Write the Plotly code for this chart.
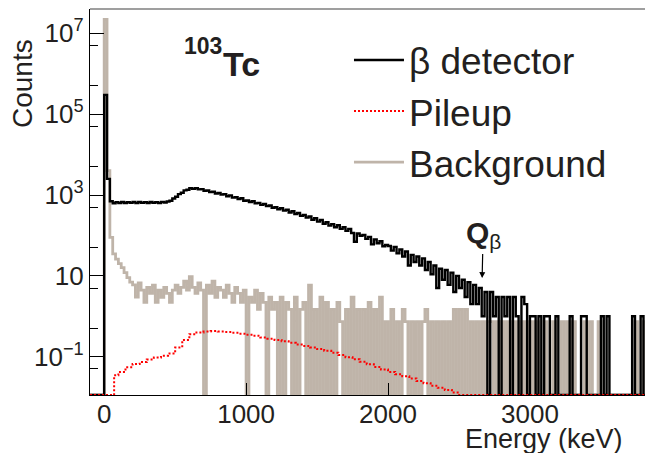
import math
import plotly.graph_objects as go

# ------------------------------------------------------------------ data
BIN_START = -100      # keV, lower edge of the first histogram bin
BIN_WIDTH = 20        # keV
E_RANGE = [-100, 3867]
Y_LOG_RANGE = [-1.947, 7.601]

# beta detector counts per bin (bins from -100 keV, 20 keV wide)
beta_counts = [
    0, 0, 0, 0, 0,
    300000, 2500, 700, 625, 665, 630, 670, 635, 665, 640,
    675, 630, 670, 640, 668, 632, 672, 638, 665, 630,
    675, 650, 690, 720, 820, 905, 1050, 1140, 1300, 1350,
    1470, 1420, 1480, 1380, 1400, 1270, 1290, 1180, 1200, 1090,
    1120, 1020, 1050, 930, 980, 860, 880, 790, 830, 720,
    730, 670, 700, 620, 640, 570, 600, 530, 550, 485,
    500, 445, 470, 410, 430, 370, 395, 340, 360, 305,
    320, 275, 295, 245, 265, 220, 240, 195, 212, 175,
    190, 160, 178, 145, 160, 130, 145, 115, 70, 112,
    98, 103, 82, 92, 60, 80, 64, 72, 54, 58,
    55, 42, 52, 36, 45, 30, 40, 18, 33, 22,
    30, 18, 27, 14, 22, 11, 18, 5, 15, 8,
    14, 6, 12, 4, 10, 5, 8, 3, 7, 2,
    6, 2, 5, 1, 4, 0, 4, 1, 3, 0,
    3, 1, 3, 0, 3, 1, 0, 3, 2, 0,
    1, 1, 0, 1, 0, 1, 1, 0, 0, 1,
    0, 0, 0, 0, 1, 0, 0, 0, 1, 1,
    0, 0, 0, 0, 0, 1, 0, 1, 0, 0,
    0, 0, 0, 0, 0, 0, 1, 0, 0, 1,
    0, 0, 1, 0,
]

# background counts per bin (same bins)
background_counts = [
    0, 0, 0, 0, 0,
    22000000, 4000, 90, 35, 26, 20, 16, 12, 9, 7,
    6, 3, 6.66, 4.44, 2.22, 5.18, 3.7, 5.92, 2.22, 4.44,
    2.96, 5.18, 3.7, 2.22, 4.44, 5.92, 3.7, 5.18, 7.4, 4.44,
    9.6, 5.18, 3.7, 6.66, 4.44, 0, 5.92, 3.7, 7.4, 2.96,
    5.18, 4.44, 2.96, 5.92, 3.7, 2.22, 5.18, 3.7, 2.22, 4.44,
    0, 2.96, 2.22, 4.44, 1.48, 3.7, 2.22, 0, 2.96, 1.48,
    2.22, 0, 2.96, 0, 2.22, 1.48, 0, 2.96, 0, 1.48,
    2.22, 0, 5.92, 0, 1.48, 0, 2.96, 0, 2.22, 0,
    1.48, 0, 2.22, 0.74, 0, 1.48, 0, 2.96, 0, 1.48,
    0, 1.48, 0, 2.22, 0, 1.48, 0, 2.96, 0, 0.74,
    0, 1.48, 0, 0.74, 0, 1.48, 0.74, 0, 0.74, 0,
    0.74, 0, 0.74, 1.48, 0, 0.74, 0, 0.74, 0, 0.74,
    0, 0.74, 0, 1.48, 0, 1.48, 0, 1.48, 0, 0.74,
    0, 0.74, 0, 0.74, 0, 0.74, 0.74, 0, 0.74, 0,
    0.74, 0, 0.74, 0, 0.74, 0, 0.74, 0, 0.74, 0,
    0.74, 0, 0.74, 0, 0, 0.74, 0, 0, 0.74, 0,
    0, 0.74, 0, 0.74, 0, 0.74, 0, 0, 0, 0.74,
    0, 0.74, 0, 0, 0.74, 0, 0, 0, 0, 0,
    0, 0, 0, 0, 0, 0, 0, 0.74, 0, 0,
    0.74, 0, 0, 0.74,
]

# pileup: lower bin edges (keV) and values
pileup_edges = [-100, 70] + list(range(100, 2501, 50))
pileup_counts = [
    0, 0.035,
    0.042, 0.055, 0.066, 0.074, 0.085, 0.095, 0.105, 0.12,
    0.17, 0.26, 0.36, 0.40, 0.42, 0.43, 0.42, 0.41, 0.39, 0.37,
    0.35, 0.33, 0.30, 0.28, 0.26, 0.24, 0.22, 0.20, 0.185, 0.17,
    0.155, 0.14, 0.125, 0.11, 0.097, 0.086, 0.075, 0.065, 0.056, 0.048,
    0.042, 0.037, 0.033, 0.029, 0.025, 0.022, 0.019, 0.017, 0.015, 0.013,
    0,
]

QBETA = 2663            # keV
QBETA_ARROW_TIP = 8.8   # counts level where the arrow points

x_tickvals = [0, 1000, 2000, 3000]
y_tickvals = [1e-1, 10, 1e3, 1e5, 1e7]
y_ticktext = ["10<sup>\u22121</sup>", "10", "10<sup>3</sup>",
              "10<sup>5</sup>", "10<sup>7</sup>"]
y_unlabelled_tickvals = [1, 1e2, 1e4, 1e6]
y_minor_tickvals = [5e-2, 5e-1, 5, 50, 5e2, 5e3, 5e4, 5e5, 5e6]

# ------------------------------------------------------------------ helpers
Y_FLOOR = 10 ** Y_LOG_RANGE[0]


def step_xy(edges, values, x_end):
    xs = list(edges) + [x_end]
    ys = [v if v > 0 else Y_FLOOR for v in values]
    ys = ys + [ys[-1]]
    return xs, ys


hist_edges = [BIN_START + i * BIN_WIDTH for i in range(len(beta_counts))]
bx, by = step_xy(hist_edges, beta_counts, hist_edges[-1] + BIN_WIDTH)
bg_edges = [BIN_START + i * BIN_WIDTH for i in range(len(background_counts))]
gx, gy = step_xy(bg_edges, background_counts, bg_edges[-1] + BIN_WIDTH)
px, py = step_xy(pileup_edges, pileup_counts, E_RANGE[1] + 50)

FONT = "Liberation Sans, Arial, Helvetica, sans-serif"
TXT = "#231f20"
GRAY = "#bfb4a9"

fig = go.Figure()
fig.add_trace(go.Scatter(x=gx, y=gy, mode="lines", line_shape="hv", name="Background",
                         line=dict(color=GRAY, width=2.8, simplify=False), legendrank=3))
fig.add_trace(go.Scatter(x=bx, y=by, mode="lines", line_shape="hv", name="\u03b2 detector",
                         line=dict(color="black", width=2.4, simplify=False), legendrank=1))
fig.add_trace(go.Scatter(x=px, y=py, mode="lines", line_shape="hv", name="Pileup",
                         line=dict(color="#ff0000", width=2, dash="2px,2px"), legendrank=2))

tick_common = dict(ticks="inside", tickwidth=1.2, tickcolor="black")

# The page body adds an 8 px margin; the figure is sized so that it fills the window.
fig.update_layout(
    width=645, height=445,
    margin=dict(l=82, r=0, t=1, b=58, autoexpand=False),
    paper_bgcolor="white", plot_bgcolor="white",
    font=dict(family=FONT, color=TXT),
    showlegend=True,
    legend=dict(x=0.460, y=0.947, xanchor="left", yanchor="top",
                bgcolor="rgba(0,0,0,0)", font=dict(size=37, color=TXT, family=FONT),
                itemwidth=50, tracegroupgap=0),
    xaxis=dict(range=E_RANGE, showgrid=False, zeroline=False, automargin=False,
               showline=True, linecolor="black", linewidth=1.3,
               ticklen=12, tickvals=x_tickvals, ticktext=[str(v) for v in x_tickvals],
               ticklabelstandoff=-4,
               tickfont=dict(size=26, color=TXT, family=FONT), **tick_common),
    yaxis=dict(type="log", range=Y_LOG_RANGE, showgrid=False, zeroline=False,
               automargin=False,
               showline=True, linecolor="black", linewidth=1.3,
               ticklen=14, tickvals=y_tickvals, ticktext=y_ticktext,
               tickfont=dict(size=26, color=TXT, family=FONT),
               minor=dict(tickvals=y_minor_tickvals, ticklen=8, showgrid=False,
                          **tick_common),
               **tick_common),
    yaxis2=dict(type="log", range=Y_LOG_RANGE, overlaying="y", side="left",
                showgrid=False, zeroline=False, automargin=False, showline=False,
                ticklen=14, tickvals=y_unlabelled_tickvals, showticklabels=False,
                **tick_common),
    shapes=[dict(type="line", xref="paper", yref="paper", x0=0, x1=1, y0=1, y1=1,
                 line=dict(color="#7f7f7f", width=1.5))],
    annotations=[
        dict(text="Energy (keV)", xref="paper", yref="paper", x=0.9503, y=-0.1140,
             xanchor="right", yanchor="middle", showarrow=False,
             font=dict(size=27, color=TXT, family=FONT)),
        dict(text="Counts", xref="paper", yref="paper", x=-0.119, y=0.8057,
             xanchor="center", yanchor="middle", textangle=-90, showarrow=False,
             font=dict(size=28, color=TXT, family=FONT)),
        dict(text="<b>103</b>", xref="paper", yref="paper", x=0.1630, y=0.9054,
             xanchor="left", yanchor="middle", showarrow=False,
             font=dict(size=23, color=TXT, family=FONT)),
        dict(text="<b>Tc</b>", xref="paper", yref="paper", x=0.2330, y=0.8575,
             xanchor="left", yanchor="middle", showarrow=False,
             font=dict(size=34, color=TXT, family=FONT)),
        dict(text="<b>Q</b><sub>\u03b2</sub>", x=QBETA, y=math.log10(QBETA_ARROW_TIP),
             xref="x", yref="y", showarrow=True, ax=1, ay=-44,
             arrowhead=2, arrowsize=1, arrowwidth=1.2, arrowcolor="black",
             font=dict(size=30, color=TXT, family=FONT)),
    ],
)

fig.write_html("out.html")
